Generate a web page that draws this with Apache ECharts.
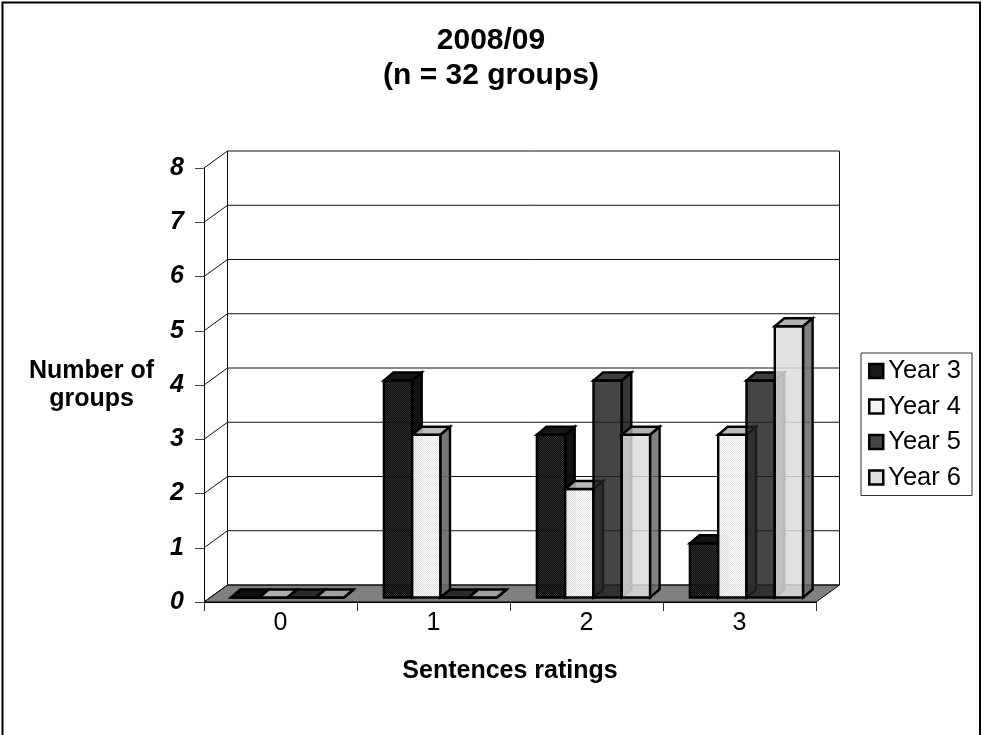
<!DOCTYPE html>
<html>
<head>
<meta charset="utf-8">
<style>html,body{margin:0;padding:0;background:#fff}#chart{width:981px;height:735px}</style>
<script src="https://cdn.jsdelivr.net/npm/echarts@6/dist/echarts.min.js"></script>
</head>
<body>
<div id="chart"></div>
<script>
var categories = ['0', '1', '2', '3'];
var yTicks = [0, 1, 2, 3, 4, 5, 6, 7, 8];
var year3 = [0, 4, 3, 1];
var year4 = [0, 3, 2, 3];
var year5 = [0, 0, 4, 4];
var year6 = [0, 0, 3, 5];

var FONT = '"Liberation Sans", Arial, sans-serif';
var WALL_DX = 23.5, WALL_DY = 17;
var BAR_DX = 9.5, BAR_DY = 8, BAR_SHIFT_X = 7, BAR_SHIFT_Y = 4.5, BAR_FRAC = 0.185;

function pattern(a, b) {
  var c = document.createElement('canvas');
  c.width = 2; c.height = 2;
  var g = c.getContext('2d');
  g.fillStyle = a; g.fillRect(0, 0, 2, 2);
  g.clearRect(0, 0, 1, 1); g.clearRect(1, 1, 1, 1);
  g.fillStyle = b; g.fillRect(0, 0, 1, 1); g.fillRect(1, 1, 1, 1);
  return { image: c, repeat: 'repeat' };
}

var styles = [
  { legend: '#1a1a1a', front: pattern('rgba(0,0,0,0.95)', 'rgba(38,38,38,0.95)'), top: 'rgba(10,10,10,0.95)', side: 'rgba(5,5,5,0.95)' },
  { legend: '#f4f4f4', front: pattern('rgba(255,255,255,0.97)', 'rgba(225,225,225,0.97)'), top: 'rgba(180,180,180,0.9)', side: 'rgba(104,104,104,0.9)' },
  { legend: '#444444', front: 'rgba(33,33,33,0.84)', top: 'rgba(25,25,25,0.84)', side: 'rgba(16,16,16,0.84)' },
  { legend: '#dcdcdc', front: 'rgba(220,220,220,0.84)', top: 'rgba(165,165,165,0.84)', side: 'rgba(104,104,104,0.84)' }
];

function wallItem(params, api) {
  var v = api.value(0);
  var cs = params.coordSys;
  var left = cs.x, right = cs.x + cs.width;
  var y = api.coord([0, v])[1];
  var line = { stroke: '#111', lineWidth: 1, fill: null };
  var children = [
    { type: 'line', shape: { x1: left, y1: y, x2: left + WALL_DX, y2: y - WALL_DY }, style: line },
    { type: 'line', shape: { x1: left + WALL_DX, y1: y - WALL_DY, x2: right + WALL_DX, y2: y - WALL_DY }, style: line }
  ];
  if (v === 0) {
    children.unshift({
      type: 'polygon',
      shape: { points: [[left, y], [left + WALL_DX, y - WALL_DY], [right + WALL_DX, y - WALL_DY], [right, y]] },
      style: { fill: '#808080', stroke: '#000', lineWidth: 1 }
    });
    var topY = api.coord([0, yTicks[yTicks.length - 1]])[1] - WALL_DY;
    children.push(
      { type: 'line', shape: { x1: left + WALL_DX, y1: topY, x2: left + WALL_DX, y2: y - WALL_DY }, style: line },
      { type: 'line', shape: { x1: right + WALL_DX, y1: topY, x2: right + WALL_DX, y2: y - WALL_DY }, style: line }
    );
  }
  return { type: 'group', children: children };
}

function barRenderer(index) {
  var st = styles[index];
  return function (params, api) {
    var base = api.coord([api.value(0), 0]);
    var top = api.coord([api.value(0), api.value(1)]);
    var band = api.size([1, 0])[0];
    var w = band * BAR_FRAC;
    var x0 = base[0] + BAR_SHIFT_X - 2 * w + index * w;
    var x1 = x0 + w;
    var yb = base[1] - BAR_SHIFT_Y;
    var yt = top[1] - BAR_SHIFT_Y;
    function st2(fill) { return { fill: fill, stroke: '#000', lineWidth: 2.4, lineJoin: 'miter' }; }
    return {
      type: 'group',
      children: [
        { type: 'polygon', shape: { points: [[x0, yb], [x1, yb], [x1, yt], [x0, yt]] }, style: st2(st.front) },
        { type: 'polygon', shape: { points: [[x0, yt], [x1, yt], [x1 + BAR_DX, yt - BAR_DY], [x0 + BAR_DX, yt - BAR_DY]] }, style: st2(st.top) },
        { type: 'polygon', shape: { points: [[x1, yb], [x1, yt], [x1 + BAR_DX, yt - BAR_DY], [x1 + BAR_DX, yb - BAR_DY]] }, style: st2(st.side) }
      ]
    };
  };
}

function barSeries(name, values, index) {
  return {
    type: 'custom',
    name: name,
    coordinateSystem: 'cartesian2d',
    renderItem: barRenderer(index),
    itemStyle: { color: styles[index].legend },
    encode: { x: 0, y: 1 },
    data: values.map(function (v, i) { return [i, v]; }),
    z: 3 + index,
    silent: true
  };
}

var chart = echarts.init(document.getElementById('chart'), null, { renderer: 'canvas' });
chart.setOption({
  animation: false,
  backgroundColor: '#ffffff',
  textStyle: { fontFamily: FONT, color: '#000' },
  title: {
    text: '2008/09\n(n = 32 groups)',
    left: 486,
    top: 18,
    textAlign: 'center',
    textStyle: { fontFamily: FONT, fontSize: 30, fontWeight: 'bold', color: '#000', lineHeight: 35 }
  },
  grid: { left: 204, top: 168, width: 612, height: 434, outerBoundsMode: 'none' },
  legend: {
    orient: 'vertical',
    left: 861,
    top: 353,
    padding: [5, 11, 5, 7],
    itemWidth: 14,
    itemHeight: 14,
    itemGap: 9.5,
    icon: 'rect',
    borderColor: '#333',
    borderWidth: 1,
    backgroundColor: '#fff',
    selectedMode: false,
    data: ['Year 3', 'Year 4', 'Year 5', 'Year 6'],
    itemStyle: { borderColor: '#000', borderWidth: 2.5 },
    textStyle: { fontFamily: FONT, fontSize: 25.5, color: '#000' }
  },
  xAxis: {
    type: 'category',
    data: categories,
    name: 'Sentences ratings',
    nameLocation: 'middle',
    nameGap: 57,
    nameTextStyle: { fontFamily: FONT, fontSize: 25, fontWeight: 'bold', color: '#000' },
    axisLine: { lineStyle: { color: '#000', width: 1 } },
    axisTick: { show: true, length: 9, alignWithLabel: false, lineStyle: { color: '#333' } },
    axisLabel: { fontFamily: FONT, fontSize: 25, color: '#000', margin: 9 }
  },
  yAxis: {
    type: 'value',
    min: 0,
    max: 8,
    interval: 1,
    name: 'Number of\ngroups',
    nameLocation: 'middle',
    nameRotate: 0,
    nameGap: 112.5,
    nameMoveOverlap: false,
    nameTextStyle: { fontFamily: FONT, fontSize: 25, fontWeight: 'bold', color: '#000', lineHeight: 28, align: 'center', verticalAlign: 'middle' },
    axisLine: { show: true, lineStyle: { color: '#000', width: 1 } },
    axisTick: { show: true, length: 9, lineStyle: { color: '#444' } },
    splitLine: { show: false },
    axisLabel: {
      fontFamily: FONT, fontSize: 25, fontWeight: 'bold', fontStyle: 'italic', color: '#000', margin: 20,
      formatter: function (v) { return String(v); }
    }
  },
  graphic: [{
    type: 'rect',
    silent: true,
    z: 100,
    shape: { x: 2.5, y: 2.5, width: 977.5, height: 760 },
    style: { fill: null, stroke: '#000', lineWidth: 2 }
  }],
  series: [
    {
      type: 'custom',
      name: 'walls',
      coordinateSystem: 'cartesian2d',
      renderItem: wallItem,
      encode: { y: 0 },
      data: yTicks.map(function (v) { return [v]; }),
      z: 1,
      silent: true
    },
    barSeries('Year 3', year3, 0),
    barSeries('Year 4', year4, 1),
    barSeries('Year 5', year5, 2),
    barSeries('Year 6', year6, 3)
  ]
});
</script>
</body>
</html>
